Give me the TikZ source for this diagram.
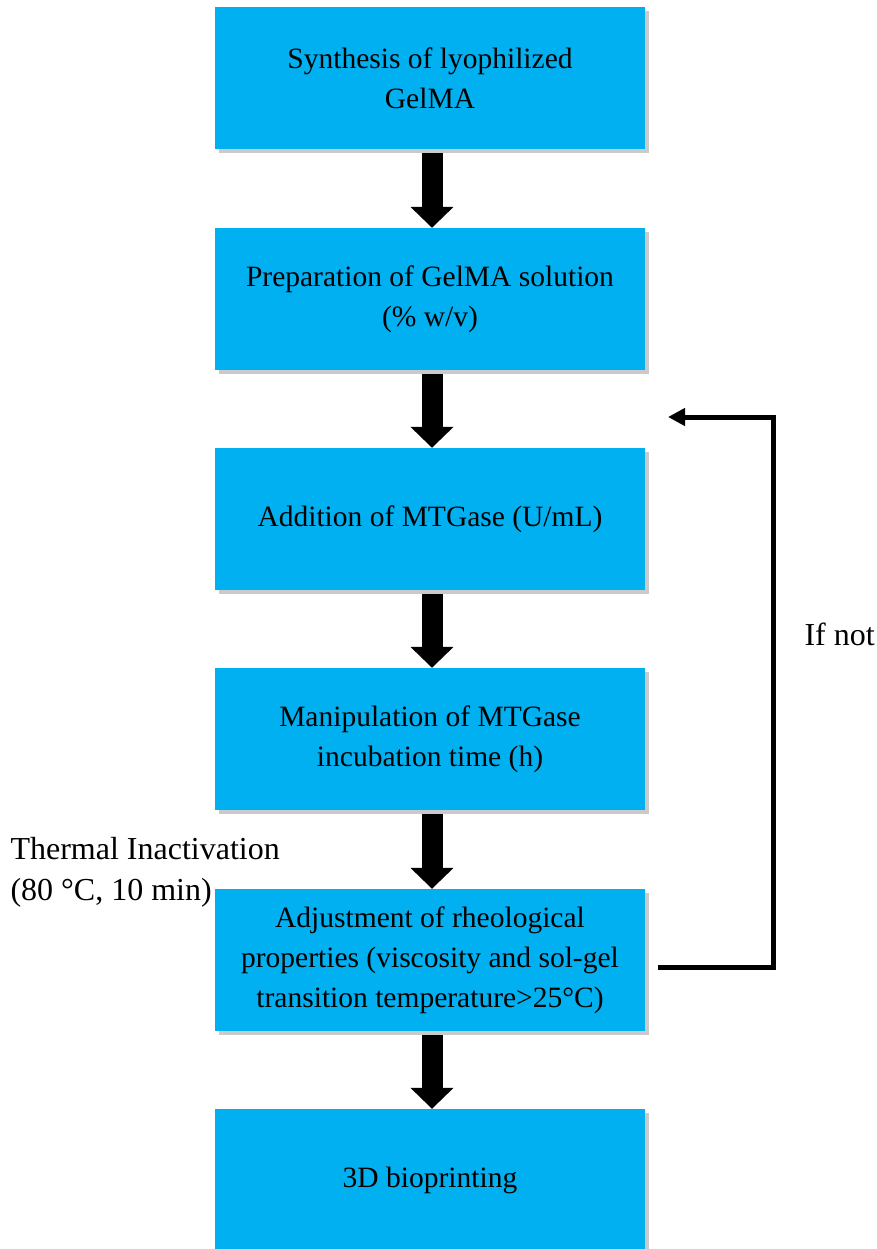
\documentclass[tikz,border=0pt]{standalone}
\usepackage{fontspec}
\setmainfont{Liberation Serif}
\usepackage{xcolor}
\usepackage{tikz}
\usetikzlibrary{
  arrows.meta,
  positioning,
  shadows,
  calc
}
\definecolor{boxblue}{HTML}{00B0F0}

\begin{document}
\begin{tikzpicture}[
    x=1pt, y=-1pt,
    font=\fontsize{29.5}{40}\selectfont,
    stage/.style={fill=boxblue, minimum width=430pt, minimum height=142pt,
                  inner sep=0pt, align=center,
                  drop shadow={shadow xshift=4pt, shadow yshift=-4pt,
                               opacity=0.35, fill=black!60}},
    flow/.style={line width=21pt, shorten <=4pt,
                 -{Triangle[length=21pt, width=42pt]}},
    loop/.style={line width=5pt, -{Triangle[length=17pt, width=17pt]}},
    note/.style={anchor=west, align=left, font=\fontsize{32}{41}\selectfont},
  ]
  \useasboundingbox (0,0) rectangle (877,1249);

  % Process stages
  \node[stage] (synth) at (430,78)   {Synthesis of lyophilized\\GelMA};
  \node[stage] (prep)  at (430,299)  {Preparation of GelMA solution\\(\% w/v)};
  \node[stage] (add)   at (430,519)  {Addition of MTGase (U/mL)};
  \node[stage] (manip) at (430,739)  {Manipulation of MTGase\\incubation time (h)};
  \node[stage] (adj)   at (430,960)  {Adjustment of rheological\\properties (viscosity and sol-gel\\transition temperature>25°C)};
  \node[stage] (print) at (430,1180) {3D bioprinting};

  % Down arrows
  \draw[flow] ([xshift=2pt]synth.south) -- ([xshift=2pt]prep.north);
  \draw[flow] ([xshift=2pt]prep.south)  -- ([xshift=2pt]add.north);
  \draw[flow] ([xshift=2pt]add.south)   -- ([xshift=2pt]manip.north);
  \draw[flow] ([xshift=2pt]manip.south) -- ([xshift=2pt]adj.north);
  \draw[flow] ([xshift=2pt]adj.south)   -- ([xshift=2pt]print.north);

  % Feedback loop
  \coordinate (back) at (668,417);
  \draw[loop] ([xshift=13pt, yshift=-7pt]adj.east) -- (773,967) |- (back);
  \node[note] (ifnot) at (801,634) {If not};

  % Side note
  \node[note] (therm) at (7,872)
    {Thermal Inactivation\\(80 °C, 10 min)};

\end{tikzpicture}
\end{document}
